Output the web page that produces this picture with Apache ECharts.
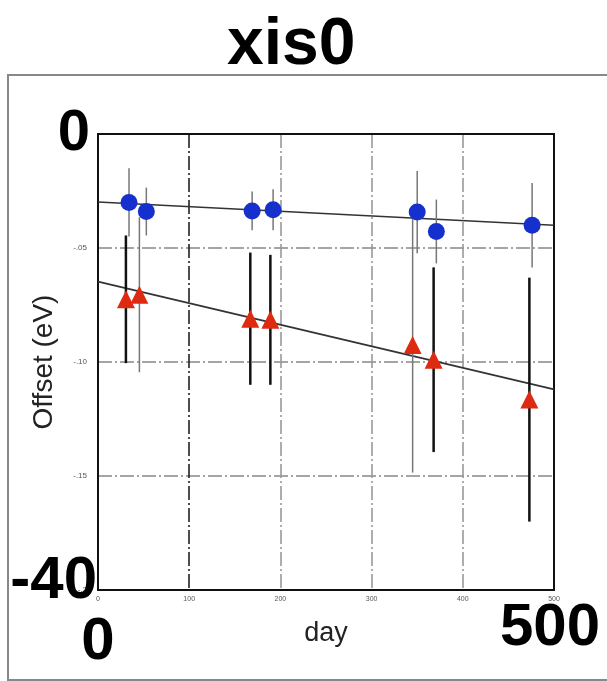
<!DOCTYPE html>
<html>
<head>
<meta charset="utf-8">
<script src="https://cdn.jsdelivr.net/npm/echarts@6/dist/echarts.min.js"></script>
<style>html,body{margin:0;padding:0;background:#fff;}#c{width:607px;height:681px;}</style>
</head>
<body>
<div id="c"></div>
<script>
// ---- data ----
const titleText = 'xis0';
const xName = 'day';
const yName = 'Offset (eV)';

// blue circles: day, offset (eV), error (eV)
const blueX   = [34, 53, 169, 192, 350, 371, 476];
const blueY   = [-6.0, -6.8, -6.75, -6.65, -6.85, -8.55, -8.0];
const blueErr = [3.0, 2.1, 1.7, 1.8, 3.6, 2.8, 3.7];

// red triangles: day, offset (eV), error (eV)
const redX   = [30.6, 45.4, 167, 189, 345, 368, 473];
const redY   = [-14.5, -14.1, -16.2, -16.3, -18.5, -19.8, -23.3];
const redErr = [5.6, 6.8, 5.8, 5.7, 11.2, 8.1, 10.7];

// linear fits (endpoints)
const fitX    = [0, 500];
const blueFit = [-5.96, -8.0];
const redFit  = [-12.95, -22.4];

// tick labels
const xTickValues = [0, 100, 200, 300, 400, 500];
const xTickLabels = ['0', '100', '200', '300', '400', '500'];
const yTickValues = [0, -10, -20, -30, -40];
const yTickLabels = ['0', '-.05', '-.10', '-.15', '-.2'];
const bigX = {0: '0', 500: '500'};
const bigY = {0: '0', '-40': '-40'};

// bar shade per red point (style, kept separate from data)
const redBarDark = [true, false, true, true, false, true, true];

const chart = echarts.init(document.getElementById('c'));

function pairs(xs, ys) { return xs.map((x, i) => [x, ys[i]]); }
function errData(xs, ys, es) { return xs.map((x, i) => [x, ys[i] - es[i], ys[i] + es[i], i]); }

function errRender(colorFn, widthFn) {
  return function (params, api) {
    const x = api.value(0), lo = api.value(1), hi = api.value(2), i = api.value(3);
    const p1 = api.coord([x, lo]);
    const p2 = api.coord([x, hi]);
    return {
      type: 'line',
      shape: {x1: p1[0], y1: p1[1], x2: p2[0], y2: p2[1]},
      style: {stroke: colorFn(i), lineWidth: widthFn(i)}
    };
  };
}

const dash = [14, 3, 2, 3];

const option = {
  backgroundColor: '#fff',
  animation: false,
  title: {
    text: titleText,
    left: 222, top: 8,
    textStyle: {fontFamily: 'Liberation Sans', fontWeight: 'bold', fontSize: 66, color: '#000'}
  },
  graphic: [{
    type: 'rect', shape: {x: 8, y: 75, width: 620, height: 605},
    style: {fill: 'none', stroke: '#888', lineWidth: 2}, silent: true, z: -1
  }],
  grid: {left: 98, right: 53, top: 134, bottom: 91, show: true, borderColor: '#111', borderWidth: 2, backgroundColor: 'transparent'},
  xAxis: [{
    type: 'value', min: 0, max: 500, interval: 100,
    name: xName, nameLocation: 'middle', nameGap: 30,
    nameTextStyle: {fontFamily: 'Liberation Sans', fontSize: 27, color: '#222'},
    axisLine: {lineStyle: {color: '#111', width: 2}},
    axisTick: {show: false},
    axisLabel: {
      margin: 6, fontSize: 7, color: '#555', fontFamily: 'Liberation Sans',
      formatter: v => { const k = xTickValues.indexOf(v); return k >= 0 ? xTickLabels[k] : ''; }
    },
    splitLine: {show: true, showMinLine: false, showMaxLine: false,
      lineStyle: {color: ['#222', '#999', '#999', '#999', '#999', '#999'], width: 1.6, type: dash}}
  }, {
    type: 'value', min: 0, max: 500, interval: 100, position: 'bottom',
    axisLine: {show: false}, axisTick: {show: false}, splitLine: {show: false},
    axisLabel: {
      margin: 8, fontFamily: 'Liberation Sans', fontWeight: 'bold', fontSize: 60, color: '#000',
      formatter: v => bigX[v] !== undefined ? (v === 0 ? '{a|' + bigX[v] + '}' : '{b|' + bigX[v] + '}') : '',
      rich: {
        a: {fontFamily: 'Liberation Sans', fontWeight: 'bold', fontSize: 60, color: '#000', padding: [14, 0, 0, 0]},
        b: {fontFamily: 'Liberation Sans', fontWeight: 'bold', fontSize: 60, color: '#000', padding: [0, 8, 0, 0]}
      }
    }
  }],
  yAxis: [{
    type: 'value', min: -40, max: 0, interval: 10,
    name: yName, nameLocation: 'middle', nameGap: 40, nameRotate: 90,
    nameTextStyle: {fontFamily: 'Liberation Sans', fontSize: 28, color: '#222'},
    axisLine: {show: true, lineStyle: {color: '#111', width: 2}},
    axisTick: {show: false},
    axisLabel: {
      margin: 11, fontSize: 8, color: '#555', fontFamily: 'Liberation Sans',
      formatter: v => { const k = yTickValues.indexOf(v); return k >= 0 ? yTickLabels[k] : ''; }
    },
    splitLine: {show: true, showMinLine: false, showMaxLine: false,
      lineStyle: {color: '#888', width: 1.5, type: dash}}
  }, {
    type: 'value', min: -40, max: 0, interval: 10, position: 'left',
    axisLine: {show: false}, axisTick: {show: false}, splitLine: {show: false},
    axisLabel: {
      margin: 1,
      formatter: v => bigY[v] !== undefined ? (v === 0 ? '{a|' + bigY[v] + '}' : '{b|' + bigY[v] + '}') : '',
      rich: {
        a: {fontFamily: 'Liberation Sans', fontWeight: 'bold', fontSize: 58, color: '#000', padding: [0, 7, 0, 0]},
        b: {fontFamily: 'Liberation Sans', fontWeight: 'bold', fontSize: 60, color: '#000', padding: [0, 0, 18, 0]}
      }
    }
  }],
  series: [
    {
      type: 'line', data: pairs(fitX, blueFit), symbol: 'none',
      lineStyle: {color: '#333', width: 1.6}, z: 2
    },
    {
      type: 'line', data: pairs(fitX, redFit), symbol: 'none',
      lineStyle: {color: '#333', width: 1.6}, z: 2
    },
    {
      type: 'custom', data: errData(blueX, blueY, blueErr),
      renderItem: errRender(() => '#777', () => 1.5), z: 3
    },
    {
      type: 'custom', data: errData(redX, redY, redErr),
      renderItem: errRender(i => redBarDark[i] ? '#111' : '#777', i => redBarDark[i] ? 2.5 : 1.5), z: 3
    },
    {
      type: 'scatter', data: pairs(blueX, blueY), symbol: 'circle', symbolSize: 17,
      itemStyle: {color: '#1530cc', opacity: 1}, z: 5
    },
    {
      type: 'scatter', data: pairs(redX, redY), symbol: 'triangle', symbolSize: 18,
      itemStyle: {color: '#dd2a10', opacity: 1}, z: 5
    }
  ]
};
chart.setOption(option);
</script>
</body>
</html>
